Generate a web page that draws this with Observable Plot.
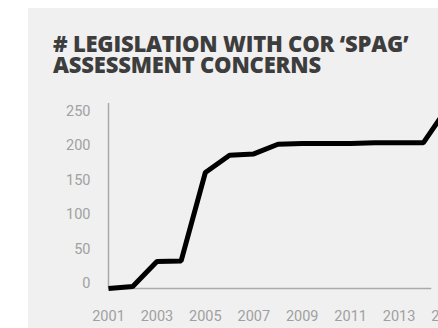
<!DOCTYPE html>
<html>
<head>
<meta charset="utf-8">
<script src="https://cdn.jsdelivr.net/npm/d3@7"></script>
<script src="https://cdn.jsdelivr.net/npm/@observablehq/plot@0.6"></script>
<style>
  html, body { margin: 0; padding: 0; background: #ffffff; width: 438px; height: 328px; overflow: hidden; }
  #panel { position: absolute; left: 28px; top: 8px; width: 410px; height: 320px; background: #f0f0f0; overflow: hidden; }
  #title { position: absolute; left: 25px; top: 25px; margin: 0; font-family: "Open Sans", sans-serif; font-weight: 800; font-size: 22px; line-height: 21px; color: #3d3d3d; letter-spacing: -0.2px; white-space: nowrap; }
  #chart { position: absolute; left: 0; top: 80px; }
  #chart svg { overflow: hidden; }
</style>
</head>
<body>
<div id="panel">
  <div id="title"># LEGISLATION WITH COR ‘SPAG’<br>ASSESSMENT CONCERNS</div>
  <div id="chart"></div>
</div>
<script>
const years = [2001, 2002, 2003, 2004, 2005, 2006, 2007, 2008, 2009, 2010, 2011, 2012, 2013, 2014, 2015];
const counts = [0, 3, 39, 40, 168, 193, 195, 209, 210, 210, 210, 211, 211, 211, 262];
const xTicks = [2001, 2003, 2005, 2007, 2009, 2011, 2013, 2015];
const yTicks = [0, 50, 100, 150, 200, 250];

const data = years.map((year, i) => ({year, count: counts[i]}));

const chart = Plot.plot({
  width: 410,
  height: 240,
  marginLeft: 80,
  marginRight: -9,
  marginTop: 15,
  marginBottom: 40,
  style: { background: "transparent", fontFamily: "Roboto, sans-serif", fontSize: "14.5px", overflow: "hidden" },
  x: { domain: [2001, 2015], ticks: xTicks, tickFormat: d => String(d) },
  y: { domain: [0, 268], ticks: yTicks },
  marks: [
    Plot.axisX({ ticks: xTicks, tickFormat: d => String(d), tickSize: 0, tickPadding: 22, fill: "#a0a0a0", fontSize: 14.5, label: null }),
    Plot.axisY({ ticks: yTicks, tickSize: 0, tickPadding: 18, fill: "#a0a0a0", fontSize: 14.5, dy: -5, label: null }),
    Plot.ruleX([2001], { stroke: "#aaaaaa", strokeWidth: 1.5 }),
    Plot.ruleY([0], { x1: 2001, x2: 2014.35, stroke: "#aaaaaa", strokeWidth: 1.5 }),
    Plot.line(data, { x: "year", y: "count", stroke: "#000000", strokeWidth: 5, strokeLinejoin: "miter", strokeLinecap: "butt" })
  ]
});
document.getElementById("chart").appendChild(chart);
</script>
</body>
</html>
